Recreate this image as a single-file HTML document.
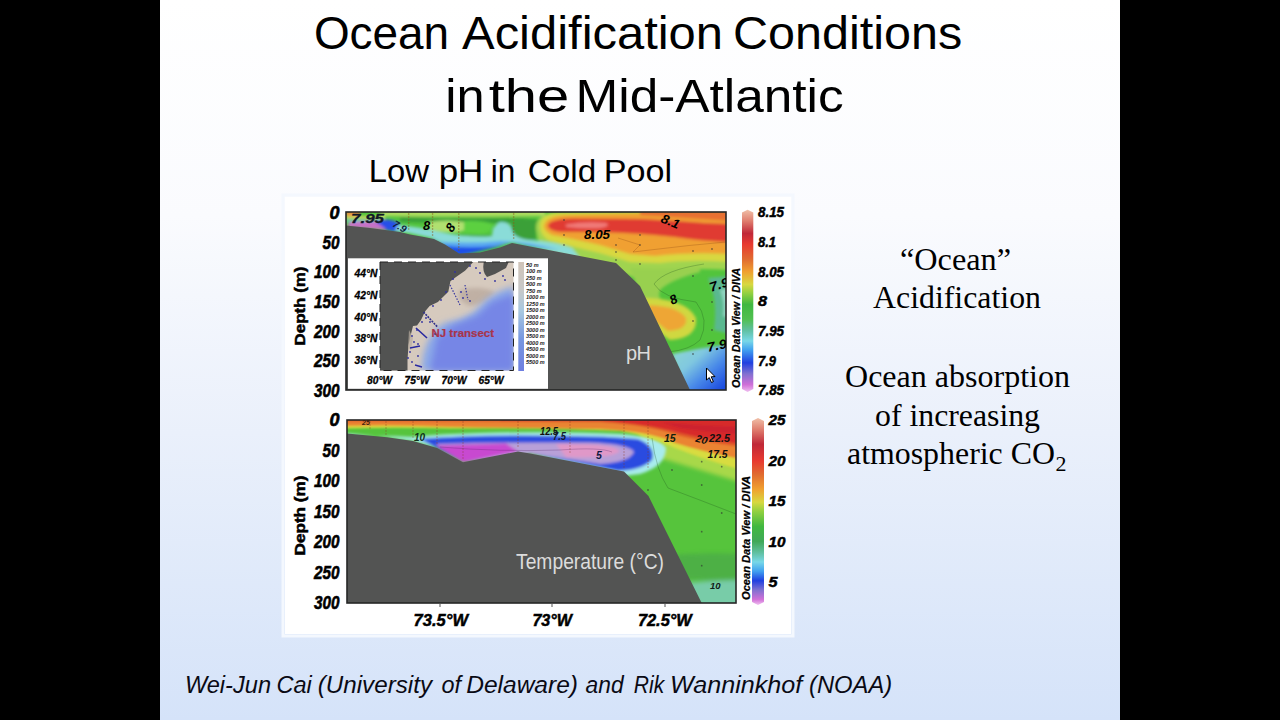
<!DOCTYPE html>
<html><head><meta charset="utf-8">
<style>
html,body{margin:0;padding:0;background:#000;width:1280px;height:720px;overflow:hidden}
svg{display:block}
text{font-family:"Liberation Sans",sans-serif}
.serif{font-family:"Liberation Serif",serif}
</style></head><body>
<svg width="1280" height="720" viewBox="0 0 1280 720">
<defs>
<linearGradient id="bg" x1="0" y1="0" x2="0" y2="1">
<stop offset="0" stop-color="#ffffff"/>
<stop offset="0.3" stop-color="#fafbfe"/>
<stop offset="0.6" stop-color="#eaf0fb"/>
<stop offset="1" stop-color="#d5e3f9"/>
</linearGradient>
<clipPath id="cpTop"><rect x="346" y="212" width="380" height="178"/></clipPath>
<clipPath id="cpBot"><rect x="347" y="420" width="389" height="183"/></clipPath>
<clipPath id="cpMap"><rect x="380" y="262" width="133.5" height="108.5"/></clipPath>
<filter id="bl3" x="-20%" y="-20%" width="140%" height="140%"><feGaussianBlur stdDeviation="3"/></filter>
<filter id="bl2" x="-20%" y="-20%" width="140%" height="140%"><feGaussianBlur stdDeviation="2"/></filter>
<filter id="bl4" x="-30%" y="-30%" width="160%" height="160%"><feGaussianBlur stdDeviation="4"/></filter>
<filter id="bl15" x="-20%" y="-20%" width="140%" height="140%"><feGaussianBlur stdDeviation="1.5"/></filter>
<filter id="bl1" x="-20%" y="-20%" width="140%" height="140%"><feGaussianBlur stdDeviation="1"/></filter>
<filter id="bl05" x="-20%" y="-20%" width="140%" height="140%"><feGaussianBlur stdDeviation="0.5"/></filter>
<linearGradient id="cbPH" x1="0" y1="0" x2="0" y2="1">
<stop offset="0" stop-color="#f0c0a8"/>
<stop offset="0.06" stop-color="#e08070"/>
<stop offset="0.13" stop-color="#c02838"/>
<stop offset="0.19" stop-color="#e83a30"/>
<stop offset="0.27" stop-color="#e06a30"/>
<stop offset="0.34" stop-color="#f0a030"/>
<stop offset="0.41" stop-color="#d8d840"/>
<stop offset="0.46" stop-color="#90d040"/>
<stop offset="0.52" stop-color="#40b840"/>
<stop offset="0.6" stop-color="#50c050"/>
<stop offset="0.66" stop-color="#60c0a0"/>
<stop offset="0.72" stop-color="#78d8e8"/>
<stop offset="0.77" stop-color="#40a0f0"/>
<stop offset="0.84" stop-color="#2040e0"/>
<stop offset="0.9" stop-color="#8070d0"/>
<stop offset="0.96" stop-color="#d070d8"/>
<stop offset="1" stop-color="#f0c0f0"/>
</linearGradient>
<linearGradient id="cbT" x1="0" y1="0" x2="0" y2="1">
<stop offset="0" stop-color="#f0c0a8"/>
<stop offset="0.06" stop-color="#e08070"/>
<stop offset="0.14" stop-color="#c02838"/>
<stop offset="0.23" stop-color="#e83a30"/>
<stop offset="0.3" stop-color="#e06a30"/>
<stop offset="0.38" stop-color="#f0a030"/>
<stop offset="0.45" stop-color="#d8d840"/>
<stop offset="0.5" stop-color="#90d040"/>
<stop offset="0.58" stop-color="#40b840"/>
<stop offset="0.66" stop-color="#40a858"/>
<stop offset="0.72" stop-color="#60c0a0"/>
<stop offset="0.77" stop-color="#78d8e8"/>
<stop offset="0.82" stop-color="#40a0f0"/>
<stop offset="0.87" stop-color="#2040e0"/>
<stop offset="0.92" stop-color="#8070d0"/>
<stop offset="0.97" stop-color="#d070d8"/>
<stop offset="1" stop-color="#f0c0f0"/>
</linearGradient>
<linearGradient id="grBR" x1="0" y1="0" x2="1" y2="1">
<stop offset="0" stop-color="#90d8d0"/>
<stop offset="0.35" stop-color="#80c8e0"/>
<stop offset="0.6" stop-color="#4888e8"/>
<stop offset="0.85" stop-color="#2050e0"/>
<stop offset="1" stop-color="#1040e0"/>
</linearGradient>
<linearGradient id="cbMap" x1="0" y1="0" x2="0" y2="1">
<stop offset="0" stop-color="#d0c4b8"/>
<stop offset="0.25" stop-color="#c8c8c8"/>
<stop offset="0.45" stop-color="#a8c8e0"/>
<stop offset="0.7" stop-color="#7898e0"/>
<stop offset="1" stop-color="#6e7ee0"/>
</linearGradient>
</defs>
<rect x="0" y="0" width="1280" height="720" fill="#000"/>
<rect x="160" y="0" width="960" height="720" fill="url(#bg)"/>
<text x="313.89" y="49" font-size="46" font-style="normal" fill="#000" textLength="135.24" lengthAdjust="spacingAndGlyphs">Ocean</text>
<text x="462.0" y="49" font-size="46" font-style="normal" fill="#000" textLength="261.04" lengthAdjust="spacingAndGlyphs">Acidification</text>
<text x="732.97" y="49" font-size="46" font-style="normal" fill="#000" textLength="229.26" lengthAdjust="spacingAndGlyphs">Conditions</text>
<text x="445.24" y="111.5" font-size="46" font-style="normal" fill="#000" textLength="39.37" lengthAdjust="spacingAndGlyphs">in</text>
<text x="488.77" y="111.5" font-size="46" font-style="normal" fill="#000" textLength="80.53" lengthAdjust="spacingAndGlyphs">the</text>
<text x="575.5" y="111.5" font-size="46" font-style="normal" fill="#000" textLength="268.15" lengthAdjust="spacingAndGlyphs">Mid-Atlantic</text>
<text x="368.8" y="182" font-size="32" font-style="normal" fill="#000" textLength="60.21" lengthAdjust="spacingAndGlyphs">Low</text>
<text x="438.71" y="182" font-size="32" font-style="normal" fill="#000" textLength="44.64" lengthAdjust="spacingAndGlyphs">pH</text>
<text x="490.76" y="182" font-size="32" font-style="normal" fill="#000" textLength="24.52" lengthAdjust="spacingAndGlyphs">in</text>
<text x="527.84" y="182" font-size="32" font-style="normal" fill="#000" textLength="68.31" lengthAdjust="spacingAndGlyphs">Cold</text>
<text x="603.8" y="182" font-size="32" font-style="normal" fill="#000" textLength="68.34" lengthAdjust="spacingAndGlyphs">Pool</text>
<text x="184.92" y="693.2" font-size="23.7" font-style="italic" fill="#0a0a14" textLength="86.11" lengthAdjust="spacingAndGlyphs">Wei-Jun</text>
<text x="276.53" y="693.2" font-size="23.7" font-style="italic" fill="#0a0a14" textLength="35.25" lengthAdjust="spacingAndGlyphs">Cai</text>
<text x="317.79" y="693.2" font-size="23.7" font-style="italic" fill="#0a0a14" textLength="114.2" lengthAdjust="spacingAndGlyphs">(University</text>
<text x="441.45" y="693.2" font-size="23.7" font-style="italic" fill="#0a0a14" textLength="19.49" lengthAdjust="spacingAndGlyphs">of</text>
<text x="466.18" y="693.2" font-size="23.7" font-style="italic" fill="#0a0a14" textLength="111.83" lengthAdjust="spacingAndGlyphs">Delaware)</text>
<text x="585.6" y="693.2" font-size="23.7" font-style="italic" fill="#0a0a14" textLength="38.0" lengthAdjust="spacingAndGlyphs">and</text>
<text x="633.8" y="693.2" font-size="23.7" font-style="italic" fill="#0a0a14" textLength="30.41" lengthAdjust="spacingAndGlyphs">Rik</text>
<text x="669.98" y="693.2" font-size="23.7" font-style="italic" fill="#0a0a14" textLength="132.21" lengthAdjust="spacingAndGlyphs">Wanninkhof</text>
<text x="808.98" y="693.2" font-size="23.7" font-style="italic" fill="#0a0a14" textLength="83.26" lengthAdjust="spacingAndGlyphs">(NOAA)</text>

<g class="serif" fill="#000">
<text class="serif" x="900" y="270" font-size="31.5" textLength="111" lengthAdjust="spacingAndGlyphs">“Ocean”</text>
<text class="serif" x="873" y="308" font-size="31.5" textLength="168" lengthAdjust="spacingAndGlyphs">Acidification</text>
<text class="serif" x="845" y="387.3" font-size="31.5" textLength="225" lengthAdjust="spacingAndGlyphs">Ocean absorption</text>
<text class="serif" x="875" y="426" font-size="31.5" textLength="165" lengthAdjust="spacingAndGlyphs">of increasing</text>
<text class="serif" x="847" y="464" font-size="31.5" textLength="208" lengthAdjust="spacingAndGlyphs">atmospheric CO</text>
<text class="serif" x="1055.5" y="471" font-size="22">2</text>
</g>

<rect x="283" y="195" width="510" height="441" fill="none" stroke="#f4f8fe" stroke-width="3"/>
<rect x="285" y="197" width="506" height="437" fill="#fff"/>

<g clip-path="url(#cpTop)">
<rect x="346" y="212" width="380" height="178" fill="#52c43c"/>
<g filter="url(#bl15)">
<!-- light yellow-green top strip -->
<path d="M380 211 L545 211 L545 216 Q470 217 380 216 Z" fill="#b0dc60"/>
<path d="M400 217 Q460 219 520 218 L540 220 L540 223 Q470 224 400 222 Z" fill="#38a038"/>
<path d="M428 222 Q448 219 464 222 Q470 228 460 232 Q440 233 428 229 Z" fill="#b0e070"/>
<path d="M464 221 Q482 220 492 224 Q494 232 480 234 L464 233 Z" fill="#5cd040"/>
<path d="M430 233 Q470 236 498 235 L498 239 Q470 240 430 237 Z" fill="#3a9a40"/>
<path d="M511 219 Q525 218 536 222 L536 240 L511 240 Z" fill="#3aa038"/>
<!-- left corner -->
<path d="M346 211 L360 211 L360 217 L346 217 Z" fill="#e89040"/>
<path d="M346 216 L385 216 L385 219 L346 219 Z" fill="#c8d860"/>
<path d="M346 220 L385 220 L385 222 L346 222 Z" fill="#70c8d8"/>
<path d="M350 222 L386 221 Q390 226 386 230 L346 227 Z" fill="#c870c8"/>
<path d="M376 221 L386 219.5 Q397 220 401 226 Q403 231 399 232.5 L386 230 Q383 226 376 222.5 Z" fill="#2850e8"/>
<!-- warm region right -->
<path d="M536 228 Q536 212 560 212 L730 211 L730 270 Q690 267 660 272 L640 280 L616 270 L560 256 L540 248 Z" fill="#a0d450"/>
<path d="M540 226 Q540 213 562 213 L730 211 L730 262 Q690 259 660 263 L630 262 L600 253 Q570 246 548 240 Q540 234 540 226 Z" fill="#d8d840"/>
<path d="M544 226 Q546 216 565 215 L730 211 L730 254 Q690 252 655 256 L630 254 L600 245 Q570 238 552 235 Q544 231 544 226 Z" fill="#f0a030"/>
<path d="M548 225 Q551 219 572 218.5 L640 219 Q680 221 704 223 L730 224 L730 242 Q700 241 675 237 Q640 233 600 232 L562 232 Q548 231 548 225 Z" fill="#e03a30"/>
<path d="M566 224.5 Q586 221 606 223 Q612 226 600 228 Q584 229 566 227 Z" fill="#f07a78"/>
<path d="M640 211 L730 211 L730 221 Q690 218 640 215 Z" fill="#e87030"/>
<!-- cyan band along seafloor -->
<path d="M398 225 Q420 227 440 232 Q470 238 492 236 Q492 226 500 222 Q510 221 512 230 Q514 238 530 240 Q556 242 572 248 L580 258 L530 246.4 L512 242.5 L459 254 L434 238.6 L409 233 L395 231 Z" fill="#8adcd8"/>
<path d="M430 241 Q470 244 500 241 Q530 242 560 250 L530 246.4 L512 242.5 L459 254 L434 239 Z" fill="#58a8f0"/>
<path d="M440 245 Q465 249 495 246 L505 245 L459 256 L436 241 Z" fill="#1e50e8"/>
<!-- lower right -->
<path d="M630 268 Q670 270 700 266 L700 272 Q670 280 660 290 Q656 300 670 306 L650 310 L636 284 Z" fill="#98d050"/>
<path d="M642 298 Q686 298 696 318 Q698 338 670 340 L655 330 Z" fill="#d0d840"/>
<path d="M648 305 Q678 306 686 318 Q688 330 668 331 L654 320 Z" fill="#eea634"/>
<path d="M708 278 Q718 300 714 330 L730 334 L730 276 Z" fill="#5ab890"/>
<path d="M720 290 Q725 302 723 316 L730 318 L730 288 Z" fill="#90d4c0"/>
<path d="M672 354 Q700 348 730 344 L730 395 L688 395 Z" fill="url(#grBR)"/>
</g>
<!-- contour lines -->
<g fill="none" stroke="#1a4a1a" stroke-opacity="0.3" stroke-width="0.9">
<path d="M704 264 Q664 270 654 284 Q662 298 696 302 Q710 320 700 340 Q690 350 668 352"/>
<path d="M618 238 L640 245 L633 252 L650 250 Q690 245 726 242" stroke="#804010"/>
</g>
<!-- seafloor -->
<path d="M346 225.5 L370 228 L385 230 L400 232 L410 234.5 L424 237 L434 239 L445 244.5 L459 253.5 L480 252.5 L500 247.5 L512 243 L530 246.4 L616 263 L640 286 L690 390 L346 390 Z" fill="#535453"/>
<text x="626" y="360" font-size="20" font-weight="normal" font-style="normal" fill="#dcdcdc" textLength="25">pH</text>
<!-- inset map box -->
<rect x="348" y="258.3" width="200" height="130.5" fill="#fff"/>
</g>
<rect x="346" y="212" width="380" height="178" fill="none" stroke="#262626" stroke-width="1.6"/>
<g><circle cx="408.7" cy="214.0" r="0.8" fill="#8a5a18" fill-opacity="0.7"/><circle cx="408.7" cy="217.0" r="0.8" fill="#8a5a18" fill-opacity="0.7"/><circle cx="408.7" cy="220.0" r="0.8" fill="#8a5a18" fill-opacity="0.7"/><circle cx="408.7" cy="223.0" r="0.8" fill="#8a5a18" fill-opacity="0.7"/><circle cx="408.7" cy="226.0" r="0.8" fill="#8a5a18" fill-opacity="0.7"/><circle cx="408.7" cy="229.0" r="0.8" fill="#8a5a18" fill-opacity="0.7"/><circle cx="432.6" cy="214.0" r="0.8" fill="#8a5a18" fill-opacity="0.7"/><circle cx="432.6" cy="217.0" r="0.8" fill="#8a5a18" fill-opacity="0.7"/><circle cx="432.6" cy="220.0" r="0.8" fill="#8a5a18" fill-opacity="0.7"/><circle cx="432.6" cy="223.0" r="0.8" fill="#8a5a18" fill-opacity="0.7"/><circle cx="432.6" cy="226.0" r="0.8" fill="#8a5a18" fill-opacity="0.7"/><circle cx="432.6" cy="229.0" r="0.8" fill="#8a5a18" fill-opacity="0.7"/><circle cx="432.6" cy="232.0" r="0.8" fill="#8a5a18" fill-opacity="0.7"/><circle cx="432.6" cy="235.0" r="0.8" fill="#8a5a18" fill-opacity="0.7"/><circle cx="458.8" cy="214.0" r="0.8" fill="#8a5a18" fill-opacity="0.7"/><circle cx="458.8" cy="217.0" r="0.8" fill="#8a5a18" fill-opacity="0.7"/><circle cx="458.8" cy="220.0" r="0.8" fill="#8a5a18" fill-opacity="0.7"/><circle cx="458.8" cy="223.0" r="0.8" fill="#8a5a18" fill-opacity="0.7"/><circle cx="458.8" cy="226.0" r="0.8" fill="#8a5a18" fill-opacity="0.7"/><circle cx="458.8" cy="229.0" r="0.8" fill="#8a5a18" fill-opacity="0.7"/><circle cx="458.8" cy="232.0" r="0.8" fill="#8a5a18" fill-opacity="0.7"/><circle cx="458.8" cy="235.0" r="0.8" fill="#8a5a18" fill-opacity="0.7"/><circle cx="458.8" cy="238.0" r="0.8" fill="#8a5a18" fill-opacity="0.7"/><circle cx="458.8" cy="241.0" r="0.8" fill="#8a5a18" fill-opacity="0.7"/><circle cx="458.8" cy="244.0" r="0.8" fill="#8a5a18" fill-opacity="0.7"/><circle cx="458.8" cy="247.0" r="0.8" fill="#8a5a18" fill-opacity="0.7"/><circle cx="458.8" cy="250.0" r="0.8" fill="#8a5a18" fill-opacity="0.7"/><circle cx="513.7" cy="214.0" r="0.8" fill="#8a5a18" fill-opacity="0.7"/><circle cx="513.7" cy="217.0" r="0.8" fill="#8a5a18" fill-opacity="0.7"/><circle cx="513.7" cy="220.0" r="0.8" fill="#8a5a18" fill-opacity="0.7"/><circle cx="513.7" cy="223.0" r="0.8" fill="#8a5a18" fill-opacity="0.7"/><circle cx="513.7" cy="226.0" r="0.8" fill="#8a5a18" fill-opacity="0.7"/><circle cx="513.7" cy="229.0" r="0.8" fill="#8a5a18" fill-opacity="0.7"/><circle cx="513.7" cy="232.0" r="0.8" fill="#8a5a18" fill-opacity="0.7"/><circle cx="513.7" cy="235.0" r="0.8" fill="#8a5a18" fill-opacity="0.7"/><circle cx="513.7" cy="238.0" r="0.8" fill="#8a5a18" fill-opacity="0.7"/><circle cx="564" cy="220" r="0.9" fill="#303030" fill-opacity="0.6"/><circle cx="564" cy="235" r="0.9" fill="#303030" fill-opacity="0.6"/><circle cx="564" cy="245" r="0.9" fill="#303030" fill-opacity="0.6"/><circle cx="616" cy="245" r="0.9" fill="#303030" fill-opacity="0.6"/><circle cx="616" cy="252" r="0.9" fill="#303030" fill-opacity="0.6"/><circle cx="616" cy="260" r="0.9" fill="#303030" fill-opacity="0.6"/><circle cx="640" cy="235" r="0.9" fill="#303030" fill-opacity="0.6"/><circle cx="640" cy="245" r="0.9" fill="#303030" fill-opacity="0.6"/><circle cx="640" cy="264" r="0.9" fill="#303030" fill-opacity="0.6"/><circle cx="693" cy="251" r="0.9" fill="#303030" fill-opacity="0.6"/><circle cx="712" cy="249" r="0.9" fill="#303030" fill-opacity="0.6"/><circle cx="693" cy="276" r="0.9" fill="#303030" fill-opacity="0.6"/><circle cx="712" cy="302" r="0.9" fill="#303030" fill-opacity="0.6"/><circle cx="693" cy="321" r="0.9" fill="#303030" fill-opacity="0.6"/><circle cx="693" cy="354" r="0.9" fill="#303030" fill-opacity="0.6"/><circle cx="712" cy="330" r="0.9" fill="#303030" fill-opacity="0.6"/></g><g clip-path="url(#cpTop)"><text x="351" y="223" font-size="12.5" font-weight="bold" font-style="italic" fill="#101828" textLength="33" lengthAdjust="spacingAndGlyphs" stroke="#101828" stroke-width="0.3">7.95</text><text x="392" y="226" font-size="10" font-weight="bold" font-style="italic" fill="#102040" transform="rotate(30 392 226)">7.9</text><text x="423" y="230" font-size="13" font-weight="bold" font-style="italic" fill="#000">8</text><text x="452" y="233" font-size="13" font-weight="bold" font-style="italic" fill="#000" transform="rotate(-55 452 233)">8</text><text x="584" y="239" font-size="13" font-weight="bold" font-style="italic" fill="#000" textLength="26" lengthAdjust="spacingAndGlyphs">8.05</text><text x="660" y="222" font-size="13" font-weight="bold" font-style="italic" fill="#000" textLength="19" lengthAdjust="spacingAndGlyphs" transform="rotate(22 660 222)">8.1</text><text x="711" y="292" font-size="13" font-weight="bold" font-style="italic" fill="#000" textLength="20" lengthAdjust="spacingAndGlyphs" transform="rotate(-18 711 292)">7.9</text><text x="672" y="305" font-size="13" font-weight="bold" font-style="italic" fill="#000" transform="rotate(-25 672 305)">8</text><text x="708" y="352" font-size="13" font-weight="bold" font-style="italic" fill="#000" textLength="20" lengthAdjust="spacingAndGlyphs" transform="rotate(-12 708 352)">7.9</text></g><path d="M706.5 368 L706.5 380 L709.3 377.6 L711.5 382.5 L713.4 381.6 L711.2 376.8 L715 376.6 Z" fill="#fff" stroke="#000" stroke-width="1"/>
<g clip-path="url(#cpMap)">
<rect x="380" y="262" width="134" height="109" fill="#d6cabe"/>
<path d="M460 290 Q480 285 495 292 Q485 305 470 306 Q455 300 460 290Z" fill="#c0b0a4" filter="url(#bl2)"/>
<path d="M513.5 286 L498.3 291.7 L485.8 300 L473.3 312.5 L460.8 318.75 L444.2 322.9 L435.8 329.2 L427.5 341.7 L423.3 354.2 L421.25 371 L513.5 371 Z" fill="#8aa8e8" filter="url(#bl3)"/>
<path d="M513.5 294 L492 302 L477 316 L452 326 L437 338 L430 371 L513.5 371 Z" fill="#7686e6" filter="url(#bl3)"/>
<path d="M380 262 L473.3 262 L465 270.8 L456 277 L450.4 281.3 L448.3 291.7 L437.9 302 L429.6 306 L425.2 311.3 L421 320 L417 325.4 L413 326 L411 334 L408.5 345 L407.5 360 L407.5 371 L380 371 Z" fill="#525352"/>
<path d="M483.7 262 L508.7 262 L506 268 L495 274 L487 277 Q482 272 483.7 262Z" fill="#525352"/>
<path d="M409 330 L413 338 L411 350 L408 348 Z" fill="#b8aca0" opacity="0.7"/>
<g fill="#3030a0">
<path d="M423.5 312 L437.5 327" stroke="#30308a" stroke-width="1.6" stroke-dasharray="2 1"/>
<path d="M416 328 L427 338" stroke="#2828a0" stroke-width="1.6"/>
<path d="M450 285 L460 305" stroke="#3838a0" stroke-width="1.2" stroke-dasharray="1.5 1.5"/>
<path d="M465 285 L468 300" stroke="#3838a0" stroke-width="1.2" stroke-dasharray="1.5 1.5"/>
<path d="M410 348 L420 346" stroke="#2828a0" stroke-width="1.5"/>
<path d="M415 365 L422 367" stroke="#2828a0" stroke-width="1.5"/>
<circle cx="470" cy="266" r="0.9"/><circle cx="476" cy="268" r="0.9"/><circle cx="480" cy="273" r="0.9"/><circle cx="485" cy="279" r="0.9"/><circle cx="495" cy="281" r="0.9"/><circle cx="505" cy="280" r="0.9"/><circle cx="503" cy="276" r="0.9"/><circle cx="455" cy="272" r="0.9"/><circle cx="453" cy="279" r="0.9"/><circle cx="461" cy="292" r="0.9"/><circle cx="463" cy="298" r="0.9"/><circle cx="470" cy="301" r="0.9"/><circle cx="446" cy="292" r="0.9"/><circle cx="441" cy="300" r="0.9"/><circle cx="433" cy="306" r="0.9"/><circle cx="426" cy="318" r="0.9"/><circle cx="422" cy="322" r="0.9"/><circle cx="417" cy="330" r="0.9"/><circle cx="412" cy="336" r="0.9"/><circle cx="414" cy="342" r="0.9"/><circle cx="418" cy="344" r="0.9"/><circle cx="410" cy="352" r="0.9"/><circle cx="408" cy="358" r="0.9"/><circle cx="412" cy="362" r="0.9"/><circle cx="418" cy="356" r="0.9"/><circle cx="430" cy="322" r="0.9"/><circle cx="435" cy="334" r="0.9"/></g>
</g>
<rect x="380" y="262" width="133.5" height="108.5" fill="none" stroke="#222" stroke-width="1" stroke-dasharray="8 6"/>
<rect x="518.3" y="262" width="5.7" height="109" fill="url(#cbMap)"/>
<text x="526" y="266.5" font-size="5.5" font-weight="bold" font-style="italic" fill="#222">50 m</text><text x="526" y="273.0" font-size="5.5" font-weight="bold" font-style="italic" fill="#222">100 m</text><text x="526" y="279.5" font-size="5.5" font-weight="bold" font-style="italic" fill="#222">250 m</text><text x="526" y="286.0" font-size="5.5" font-weight="bold" font-style="italic" fill="#222">500 m</text><text x="526" y="292.5" font-size="5.5" font-weight="bold" font-style="italic" fill="#222">750 m</text><text x="526" y="299.0" font-size="5.5" font-weight="bold" font-style="italic" fill="#222">1000 m</text><text x="526" y="305.5" font-size="5.5" font-weight="bold" font-style="italic" fill="#222">1250 m</text><text x="526" y="312.0" font-size="5.5" font-weight="bold" font-style="italic" fill="#222">1500 m</text><text x="526" y="318.5" font-size="5.5" font-weight="bold" font-style="italic" fill="#222">2000 m</text><text x="526" y="325.0" font-size="5.5" font-weight="bold" font-style="italic" fill="#222">2500 m</text><text x="526" y="331.5" font-size="5.5" font-weight="bold" font-style="italic" fill="#222">3000 m</text><text x="526" y="338.0" font-size="5.5" font-weight="bold" font-style="italic" fill="#222">3500 m</text><text x="526" y="344.5" font-size="5.5" font-weight="bold" font-style="italic" fill="#222">4000 m</text><text x="526" y="351.0" font-size="5.5" font-weight="bold" font-style="italic" fill="#222">4500 m</text><text x="526" y="357.5" font-size="5.5" font-weight="bold" font-style="italic" fill="#222">5000 m</text><text x="526" y="364.0" font-size="5.5" font-weight="bold" font-style="italic" fill="#222">5500 m</text><text x="377.5" y="276.8" font-size="10.5" font-weight="bold" font-style="italic" fill="#000" text-anchor="end" textLength="23" lengthAdjust="spacingAndGlyphs" stroke="#000" stroke-width="0.3">44°N</text><text x="377.5" y="298.6" font-size="10.5" font-weight="bold" font-style="italic" fill="#000" text-anchor="end" textLength="23" lengthAdjust="spacingAndGlyphs" stroke="#000" stroke-width="0.3">42°N</text><text x="377.5" y="320.5" font-size="10.5" font-weight="bold" font-style="italic" fill="#000" text-anchor="end" textLength="23" lengthAdjust="spacingAndGlyphs" stroke="#000" stroke-width="0.3">40°N</text><text x="377.5" y="342.3" font-size="10.5" font-weight="bold" font-style="italic" fill="#000" text-anchor="end" textLength="23" lengthAdjust="spacingAndGlyphs" stroke="#000" stroke-width="0.3">38°N</text><text x="377.5" y="363.8" font-size="10.5" font-weight="bold" font-style="italic" fill="#000" text-anchor="end" textLength="23" lengthAdjust="spacingAndGlyphs" stroke="#000" stroke-width="0.3">36°N</text><text x="379.6" y="384" font-size="10.5" font-weight="bold" font-style="italic" fill="#000" text-anchor="middle" textLength="25" lengthAdjust="spacingAndGlyphs" stroke="#000" stroke-width="0.3">80°W</text><text x="417" y="384" font-size="10.5" font-weight="bold" font-style="italic" fill="#000" text-anchor="middle" textLength="25" lengthAdjust="spacingAndGlyphs" stroke="#000" stroke-width="0.3">75°W</text><text x="454" y="384" font-size="10.5" font-weight="bold" font-style="italic" fill="#000" text-anchor="middle" textLength="25" lengthAdjust="spacingAndGlyphs" stroke="#000" stroke-width="0.3">70°W</text><text x="491" y="384" font-size="10.5" font-weight="bold" font-style="italic" fill="#000" text-anchor="middle" textLength="25" lengthAdjust="spacingAndGlyphs" stroke="#000" stroke-width="0.3">65°W</text><text x="431.5" y="337" font-size="11.5" font-weight="bold" font-style="normal" fill="#a8344a" textLength="62.5" lengthAdjust="spacingAndGlyphs" stroke="#a8344a" stroke-width="0.2">NJ transect</text>
<g clip-path="url(#cpBot)">
<rect x="347" y="420" width="389" height="183" fill="#56c43c"/>
<!-- right side gradient bands -->
<g filter="url(#bl2)">
<path d="M640 430 Q690 448 740 468 L740 482 Q700 470 660 458 L640 448 Z" fill="#a8d848"/>
<path d="M660 556 Q700 552 740 554 L740 584 Q700 578 670 580 Z" fill="#48a848" opacity="0.7"/>
<path d="M680 584 Q710 580 740 580 L740 610 L705 610 Z" fill="#78cca8"/>
</g>
<!-- cold pool blob -->
<g filter="url(#bl15)">
<path d="M347 437 Q380 435 410 437 Q440 434 480 433 Q560 431 620 434 Q658 436 666 448 Q666 466 640 474 L624 476 L530 453.5 L463 462.3 L437 448 L413 441 L387 437.3 L347 433.4 Z" fill="#a8ecec"/>
<path d="M420 439 Q460 435.5 520 435.5 Q600 435.5 638 439 Q656 446 652 460 Q642 470 618 471 L530 453.5 L463 462.3 L437 448 Z" fill="#2a4ce0"/>
<path d="M436 444 Q500 442 590 442.5 Q630 444 634 452 Q630 462 600 464 L530 453.5 L463 462.3 Z" fill="#b8a0d8"/>
<path d="M436 445.5 L506 443.5 L518 451.4 L463 462.3 Z" fill="#c848d0"/>
<path d="M556 444 Q614 443 620 451 Q612 459 566 457 Z" fill="#e098c8"/>
</g>
<!-- top bands -->
<g filter="url(#bl1)">
<path d="M340 414 L740 414 L740 470 Q700 458 675 448 Q650 436 620 431 Q560 428 450 428.5 Q400 427 340 428.5 Z" fill="#d8dc40"/>
<path d="M340 414 L740 414 L740 459 Q700 451 675 443 Q650 431 600 429 Q520 428 450 427 Q400 424.5 340 426 Z" fill="#ea8430"/>
<path d="M340 414 L740 414 L740 447 Q705 442 680 436 Q650 425 600 422 L340 421.5 Z" fill="#e05a2c"/>
<path d="M500 414 L740 414 L740 444 Q705 439 680 433 Q650 424 600 421 L500 421 Z" fill="#d82c2c"/>
<path d="M660 422 Q700 426 740 427 L740 434 Q705 432 680 428 Z" fill="#c82030" opacity="0.7"/>
</g>

<g fill="none" stroke="#1a4a1a" stroke-opacity="0.3" stroke-width="0.9">
<path d="M652 438 Q656 470 668 488 Q700 500 736 514"/>
<path d="M440 447 Q500 452 560 450 Q600 447 612 452" stroke="#502060"/>
</g>
<path d="M347 433.4 L387 437.3 L413 441 L437 448 L463 462.3 L518 451.4 L530 453.5 L624 471.5 L648.5 496 L701.7 603 L347 603 Z" fill="#535453"/>
<text x="516" y="568.7" font-size="22" font-weight="normal" font-style="normal" fill="#dcdcdc" textLength="148" lengthAdjust="spacingAndGlyphs">Temperature (°C)</text>
</g>
<rect x="347" y="420" width="389" height="183" fill="none" stroke="#262626" stroke-width="1.6"/>
<g><circle cx="370" cy="422.0" r="0.7" fill="#8a3a20" fill-opacity="0.55"/><circle cx="370" cy="425.0" r="0.7" fill="#8a3a20" fill-opacity="0.55"/><circle cx="370" cy="428.0" r="0.7" fill="#8a3a20" fill-opacity="0.55"/><circle cx="386" cy="422.0" r="0.7" fill="#8a3a20" fill-opacity="0.55"/><circle cx="386" cy="425.0" r="0.7" fill="#8a3a20" fill-opacity="0.55"/><circle cx="386" cy="428.0" r="0.7" fill="#8a3a20" fill-opacity="0.55"/><circle cx="386" cy="431.0" r="0.7" fill="#8a3a20" fill-opacity="0.55"/><circle cx="386" cy="434.0" r="0.7" fill="#8a3a20" fill-opacity="0.55"/><circle cx="413" cy="422.0" r="0.7" fill="#8a3a20" fill-opacity="0.55"/><circle cx="413" cy="425.0" r="0.7" fill="#8a3a20" fill-opacity="0.55"/><circle cx="413" cy="428.0" r="0.7" fill="#8a3a20" fill-opacity="0.55"/><circle cx="413" cy="431.0" r="0.7" fill="#8a3a20" fill-opacity="0.55"/><circle cx="413" cy="434.0" r="0.7" fill="#8a3a20" fill-opacity="0.55"/><circle cx="413" cy="437.0" r="0.7" fill="#8a3a20" fill-opacity="0.55"/><circle cx="437" cy="422.0" r="0.7" fill="#8a3a20" fill-opacity="0.55"/><circle cx="437" cy="425.0" r="0.7" fill="#8a3a20" fill-opacity="0.55"/><circle cx="437" cy="428.0" r="0.7" fill="#8a3a20" fill-opacity="0.55"/><circle cx="437" cy="431.0" r="0.7" fill="#8a3a20" fill-opacity="0.55"/><circle cx="437" cy="434.0" r="0.7" fill="#8a3a20" fill-opacity="0.55"/><circle cx="437" cy="437.0" r="0.7" fill="#8a3a20" fill-opacity="0.55"/><circle cx="437" cy="440.0" r="0.7" fill="#8a3a20" fill-opacity="0.55"/><circle cx="437" cy="443.0" r="0.7" fill="#8a3a20" fill-opacity="0.55"/><circle cx="463" cy="422.0" r="0.7" fill="#8a3a20" fill-opacity="0.55"/><circle cx="463" cy="425.0" r="0.7" fill="#8a3a20" fill-opacity="0.55"/><circle cx="463" cy="428.0" r="0.7" fill="#8a3a20" fill-opacity="0.55"/><circle cx="463" cy="431.0" r="0.7" fill="#8a3a20" fill-opacity="0.55"/><circle cx="463" cy="434.0" r="0.7" fill="#8a3a20" fill-opacity="0.55"/><circle cx="463" cy="437.0" r="0.7" fill="#8a3a20" fill-opacity="0.55"/><circle cx="463" cy="440.0" r="0.7" fill="#8a3a20" fill-opacity="0.55"/><circle cx="463" cy="443.0" r="0.7" fill="#8a3a20" fill-opacity="0.55"/><circle cx="463" cy="446.0" r="0.7" fill="#8a3a20" fill-opacity="0.55"/><circle cx="463" cy="449.0" r="0.7" fill="#8a3a20" fill-opacity="0.55"/><circle cx="463" cy="452.0" r="0.7" fill="#8a3a20" fill-opacity="0.55"/><circle cx="463" cy="455.0" r="0.7" fill="#8a3a20" fill-opacity="0.55"/><circle cx="463" cy="458.0" r="0.7" fill="#8a3a20" fill-opacity="0.55"/><circle cx="518" cy="422.0" r="0.7" fill="#8a3a20" fill-opacity="0.55"/><circle cx="518" cy="425.0" r="0.7" fill="#8a3a20" fill-opacity="0.55"/><circle cx="518" cy="428.0" r="0.7" fill="#8a3a20" fill-opacity="0.55"/><circle cx="518" cy="431.0" r="0.7" fill="#8a3a20" fill-opacity="0.55"/><circle cx="518" cy="434.0" r="0.7" fill="#8a3a20" fill-opacity="0.55"/><circle cx="518" cy="437.0" r="0.7" fill="#8a3a20" fill-opacity="0.55"/><circle cx="518" cy="440.0" r="0.7" fill="#8a3a20" fill-opacity="0.55"/><circle cx="518" cy="443.0" r="0.7" fill="#8a3a20" fill-opacity="0.55"/><circle cx="518" cy="446.0" r="0.7" fill="#8a3a20" fill-opacity="0.55"/><circle cx="570" cy="422.0" r="0.7" fill="#8a3a20" fill-opacity="0.55"/><circle cx="570" cy="425.0" r="0.7" fill="#8a3a20" fill-opacity="0.55"/><circle cx="570" cy="428.0" r="0.7" fill="#8a3a20" fill-opacity="0.55"/><circle cx="570" cy="431.0" r="0.7" fill="#8a3a20" fill-opacity="0.55"/><circle cx="570" cy="434.0" r="0.7" fill="#8a3a20" fill-opacity="0.55"/><circle cx="570" cy="437.0" r="0.7" fill="#8a3a20" fill-opacity="0.55"/><circle cx="570" cy="440.0" r="0.7" fill="#8a3a20" fill-opacity="0.55"/><circle cx="570" cy="443.0" r="0.7" fill="#8a3a20" fill-opacity="0.55"/><circle cx="570" cy="446.0" r="0.7" fill="#8a3a20" fill-opacity="0.55"/><circle cx="570" cy="449.0" r="0.7" fill="#8a3a20" fill-opacity="0.55"/><circle cx="570" cy="452.0" r="0.7" fill="#8a3a20" fill-opacity="0.55"/><circle cx="624" cy="422.0" r="0.7" fill="#8a3a20" fill-opacity="0.55"/><circle cx="624" cy="425.0" r="0.7" fill="#8a3a20" fill-opacity="0.55"/><circle cx="624" cy="428.0" r="0.7" fill="#8a3a20" fill-opacity="0.55"/><circle cx="624" cy="431.0" r="0.7" fill="#8a3a20" fill-opacity="0.55"/><circle cx="624" cy="434.0" r="0.7" fill="#8a3a20" fill-opacity="0.55"/><circle cx="624" cy="437.0" r="0.7" fill="#8a3a20" fill-opacity="0.55"/><circle cx="624" cy="440.0" r="0.7" fill="#8a3a20" fill-opacity="0.55"/><circle cx="624" cy="443.0" r="0.7" fill="#8a3a20" fill-opacity="0.55"/><circle cx="624" cy="446.0" r="0.7" fill="#8a3a20" fill-opacity="0.55"/><circle cx="624" cy="449.0" r="0.7" fill="#8a3a20" fill-opacity="0.55"/><circle cx="624" cy="452.0" r="0.7" fill="#8a3a20" fill-opacity="0.55"/><circle cx="624" cy="455.0" r="0.7" fill="#8a3a20" fill-opacity="0.55"/><circle cx="624" cy="458.0" r="0.7" fill="#8a3a20" fill-opacity="0.55"/><circle cx="624" cy="461.0" r="0.7" fill="#8a3a20" fill-opacity="0.55"/><circle cx="624" cy="464.0" r="0.7" fill="#8a3a20" fill-opacity="0.55"/><circle cx="624" cy="467.0" r="0.7" fill="#8a3a20" fill-opacity="0.55"/><circle cx="648" cy="422.0" r="0.7" fill="#8a3a20" fill-opacity="0.55"/><circle cx="648" cy="425.0" r="0.7" fill="#8a3a20" fill-opacity="0.55"/><circle cx="648" cy="428.0" r="0.7" fill="#8a3a20" fill-opacity="0.55"/><circle cx="648" cy="431.0" r="0.7" fill="#8a3a20" fill-opacity="0.55"/><circle cx="648" cy="434.0" r="0.7" fill="#8a3a20" fill-opacity="0.55"/><circle cx="648" cy="437.0" r="0.7" fill="#8a3a20" fill-opacity="0.55"/><circle cx="648" cy="440.0" r="0.7" fill="#8a3a20" fill-opacity="0.55"/><circle cx="648" cy="443.0" r="0.7" fill="#8a3a20" fill-opacity="0.55"/><circle cx="648" cy="446.0" r="0.7" fill="#8a3a20" fill-opacity="0.55"/><circle cx="648" cy="449.0" r="0.7" fill="#8a3a20" fill-opacity="0.55"/><circle cx="648" cy="452.0" r="0.7" fill="#8a3a20" fill-opacity="0.55"/><circle cx="648" cy="455.0" r="0.7" fill="#8a3a20" fill-opacity="0.55"/><circle cx="648" cy="458.0" r="0.7" fill="#8a3a20" fill-opacity="0.55"/><circle cx="648" cy="461.0" r="0.7" fill="#8a3a20" fill-opacity="0.55"/><circle cx="648" cy="464.0" r="0.7" fill="#8a3a20" fill-opacity="0.55"/><circle cx="648" cy="467.0" r="0.7" fill="#8a3a20" fill-opacity="0.55"/><circle cx="701.7" cy="461.7" r="0.9" fill="#303030" fill-opacity="0.6"/><circle cx="721.7" cy="466.7" r="0.9" fill="#303030" fill-opacity="0.6"/><circle cx="701.7" cy="485" r="0.9" fill="#303030" fill-opacity="0.6"/><circle cx="721.7" cy="513" r="0.9" fill="#303030" fill-opacity="0.6"/><circle cx="701.7" cy="531.7" r="0.9" fill="#303030" fill-opacity="0.6"/><circle cx="701.7" cy="565.7" r="0.9" fill="#303030" fill-opacity="0.6"/><circle cx="648" cy="490" r="0.9" fill="#303030" fill-opacity="0.6"/><circle cx="672" cy="470" r="0.9" fill="#303030" fill-opacity="0.6"/></g><text x="362" y="425" font-size="7" font-weight="bold" font-style="italic" fill="#402010">25</text><text x="414" y="441" font-size="10" font-weight="bold" font-style="italic" fill="#10301a">10</text><text x="540" y="435" font-size="10.5" font-weight="bold" font-style="italic" fill="#101010" textLength="18" lengthAdjust="spacingAndGlyphs">12.5</text><text x="553" y="440" font-size="10.5" font-weight="bold" font-style="italic" fill="#101830" textLength="13" lengthAdjust="spacingAndGlyphs">7.5</text><text x="596" y="459" font-size="10.5" font-weight="bold" font-style="italic" fill="#101840">5</text><text x="664" y="442" font-size="10.5" font-weight="bold" font-style="italic" fill="#102010">15</text><text x="695" y="441.5" font-size="10.5" font-weight="bold" font-style="italic" fill="#101010" transform="rotate(15 695 441.5)">20</text><text x="709" y="442" font-size="10.5" font-weight="bold" font-style="italic" fill="#101010" textLength="21" lengthAdjust="spacingAndGlyphs">22.5</text><text x="707.5" y="458" font-size="10.5" font-weight="bold" font-style="italic" fill="#101010" textLength="20" lengthAdjust="spacingAndGlyphs">17.5</text><text x="710" y="589" font-size="9.5" font-weight="bold" font-style="italic" fill="#102018">10</text>
<path d="M742 212.5 L747.6 209.7 L753.3 212.5 L753.3 389 L747.6 392 L742 389 Z" fill="url(#cbPH)"/>
<path d="M752 421 L758 418 L764 421 L764 602 L758 605 L752 602 Z" fill="url(#cbT)"/>
<text x="339.5" y="218.8" font-size="18" font-weight="bold" font-style="italic" fill="#000" text-anchor="end" textLength="10" lengthAdjust="spacingAndGlyphs" stroke="#000" stroke-width="0.6">0</text><text x="339.5" y="426.3" font-size="18" font-weight="bold" font-style="italic" fill="#000" text-anchor="end" textLength="10" lengthAdjust="spacingAndGlyphs" stroke="#000" stroke-width="0.6">0</text><text x="339.5" y="248.5" font-size="18" font-weight="bold" font-style="italic" fill="#000" text-anchor="end" textLength="17" lengthAdjust="spacingAndGlyphs" stroke="#000" stroke-width="0.6">50</text><text x="339.5" y="456.8" font-size="18" font-weight="bold" font-style="italic" fill="#000" text-anchor="end" textLength="17" lengthAdjust="spacingAndGlyphs" stroke="#000" stroke-width="0.6">50</text><text x="339.5" y="278.2" font-size="18" font-weight="bold" font-style="italic" fill="#000" text-anchor="end" textLength="25.5" lengthAdjust="spacingAndGlyphs" stroke="#000" stroke-width="0.6">100</text><text x="339.5" y="487.3" font-size="18" font-weight="bold" font-style="italic" fill="#000" text-anchor="end" textLength="25.5" lengthAdjust="spacingAndGlyphs" stroke="#000" stroke-width="0.6">100</text><text x="339.5" y="307.9" font-size="18" font-weight="bold" font-style="italic" fill="#000" text-anchor="end" textLength="25.5" lengthAdjust="spacingAndGlyphs" stroke="#000" stroke-width="0.6">150</text><text x="339.5" y="517.8" font-size="18" font-weight="bold" font-style="italic" fill="#000" text-anchor="end" textLength="25.5" lengthAdjust="spacingAndGlyphs" stroke="#000" stroke-width="0.6">150</text><text x="339.5" y="337.6" font-size="18" font-weight="bold" font-style="italic" fill="#000" text-anchor="end" textLength="25.5" lengthAdjust="spacingAndGlyphs" stroke="#000" stroke-width="0.6">200</text><text x="339.5" y="548.3" font-size="18" font-weight="bold" font-style="italic" fill="#000" text-anchor="end" textLength="25.5" lengthAdjust="spacingAndGlyphs" stroke="#000" stroke-width="0.6">200</text><text x="339.5" y="367.3" font-size="18" font-weight="bold" font-style="italic" fill="#000" text-anchor="end" textLength="25.5" lengthAdjust="spacingAndGlyphs" stroke="#000" stroke-width="0.6">250</text><text x="339.5" y="578.8" font-size="18" font-weight="bold" font-style="italic" fill="#000" text-anchor="end" textLength="25.5" lengthAdjust="spacingAndGlyphs" stroke="#000" stroke-width="0.6">250</text><text x="339.5" y="397.0" font-size="18" font-weight="bold" font-style="italic" fill="#000" text-anchor="end" textLength="25.5" lengthAdjust="spacingAndGlyphs" stroke="#000" stroke-width="0.6">300</text><text x="339.5" y="609.3" font-size="18" font-weight="bold" font-style="italic" fill="#000" text-anchor="end" textLength="25.5" lengthAdjust="spacingAndGlyphs" stroke="#000" stroke-width="0.6">300</text><text x="305" y="306" font-size="14.5" font-weight="bold" font-style="normal" fill="#000" text-anchor="middle" textLength="79" lengthAdjust="spacingAndGlyphs" transform="rotate(-90 305 306)" stroke="#000" stroke-width="0.5">Depth (m)</text><text x="305" y="515.5" font-size="14.5" font-weight="bold" font-style="normal" fill="#000" text-anchor="middle" textLength="80" lengthAdjust="spacingAndGlyphs" transform="rotate(-90 305 515.5)" stroke="#000" stroke-width="0.5">Depth (m)</text><text x="740" y="328" font-size="10.5" font-weight="bold" font-style="italic" fill="#000" text-anchor="middle" textLength="120" lengthAdjust="spacingAndGlyphs" transform="rotate(-90 740 328)" stroke="#000" stroke-width="0.25">Ocean Data View / DIVA</text><text x="750" y="538" font-size="10.5" font-weight="bold" font-style="italic" fill="#000" text-anchor="middle" textLength="124" lengthAdjust="spacingAndGlyphs" transform="rotate(-90 750 538)" stroke="#000" stroke-width="0.25">Ocean Data View / DIVA</text><text x="758" y="217.4" font-size="15" font-weight="bold" font-style="italic" fill="#000" textLength="26" lengthAdjust="spacingAndGlyphs" stroke="#000" stroke-width="0.5">8.15</text><text x="758" y="246.9" font-size="15" font-weight="bold" font-style="italic" fill="#000" textLength="18" lengthAdjust="spacingAndGlyphs" stroke="#000" stroke-width="0.5">8.1</text><text x="758" y="276.6" font-size="15" font-weight="bold" font-style="italic" fill="#000" textLength="26" lengthAdjust="spacingAndGlyphs" stroke="#000" stroke-width="0.5">8.05</text><text x="758" y="306.3" font-size="15" font-weight="bold" font-style="italic" fill="#000" textLength="9" lengthAdjust="spacingAndGlyphs" stroke="#000" stroke-width="0.5">8</text><text x="758" y="336" font-size="15" font-weight="bold" font-style="italic" fill="#000" textLength="26" lengthAdjust="spacingAndGlyphs" stroke="#000" stroke-width="0.5">7.95</text><text x="758" y="365.7" font-size="15" font-weight="bold" font-style="italic" fill="#000" textLength="18" lengthAdjust="spacingAndGlyphs" stroke="#000" stroke-width="0.5">7.9</text><text x="758" y="395.4" font-size="15" font-weight="bold" font-style="italic" fill="#000" textLength="26" lengthAdjust="spacingAndGlyphs" stroke="#000" stroke-width="0.5">7.85</text><text x="768.5" y="425" font-size="15" font-weight="bold" font-style="italic" fill="#000" textLength="17" lengthAdjust="spacingAndGlyphs" stroke="#000" stroke-width="0.5">25</text><text x="768.5" y="465.8" font-size="15" font-weight="bold" font-style="italic" fill="#000" textLength="17" lengthAdjust="spacingAndGlyphs" stroke="#000" stroke-width="0.5">20</text><text x="768.5" y="506.4" font-size="15" font-weight="bold" font-style="italic" fill="#000" textLength="17" lengthAdjust="spacingAndGlyphs" stroke="#000" stroke-width="0.5">15</text><text x="768.5" y="546.8" font-size="15" font-weight="bold" font-style="italic" fill="#000" textLength="17" lengthAdjust="spacingAndGlyphs" stroke="#000" stroke-width="0.5">10</text><text x="768.5" y="587.4" font-size="15" font-weight="bold" font-style="italic" fill="#000" textLength="9" lengthAdjust="spacingAndGlyphs" stroke="#000" stroke-width="0.5">5</text><text x="413.6" y="626" font-size="17" font-weight="bold" font-style="italic" fill="#000" textLength="54.4" lengthAdjust="spacingAndGlyphs" stroke="#000" stroke-width="0.5">73.5°W</text><text x="532.4" y="626" font-size="17" font-weight="bold" font-style="italic" fill="#000" textLength="39.6" lengthAdjust="spacingAndGlyphs" stroke="#000" stroke-width="0.5">73°W</text><text x="637.9" y="626" font-size="17" font-weight="bold" font-style="italic" fill="#000" textLength="53.9" lengthAdjust="spacingAndGlyphs" stroke="#000" stroke-width="0.5">72.5°W</text><g stroke="#555" stroke-width="1"><line x1="440" y1="603" x2="440" y2="607"/><line x1="552" y1="603" x2="552" y2="607"/><line x1="665" y1="603" x2="665" y2="607"/></g>
</svg>
</body></html>
